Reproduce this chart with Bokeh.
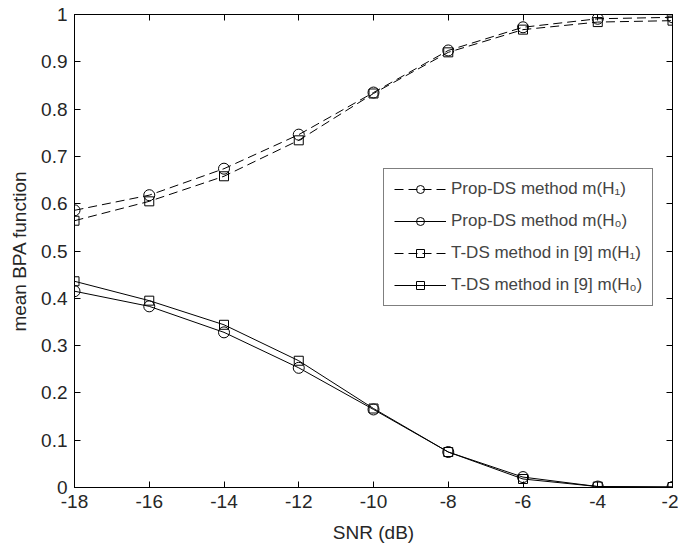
from bokeh.plotting import figure
from bokeh.models import Range1d, LinearAxis, FixedTicker, Legend, LegendItem, CustomJSTickFormatter
from bokeh.embed import file_html
from bokeh.resources import INLINE

snr = [-18, -16, -14, -12, -10, -8, -6, -4, -2]
prop_h1 = [0.586, 0.618, 0.674, 0.746, 0.835, 0.924, 0.973, 0.991, 0.994]
prop_h0 = [0.415, 0.383, 0.328, 0.253, 0.165, 0.075, 0.022, 0.002, 0.001]
tds_h1 = [0.564, 0.605, 0.658, 0.734, 0.833, 0.920, 0.968, 0.984, 0.987]
tds_h0 = [0.436, 0.395, 0.344, 0.268, 0.167, 0.075, 0.018, 0.002, 0.001]

labels = ["Prop-DS method m(H\u2081)", "Prop-DS method m(H\u2080)",
          "T-DS method in [9] m(H\u2081)", "T-DS method in [9] m(H\u2080)"]
x_ticks = [-18, -16, -14, -12, -10, -8, -6, -4, -2]
x_tick_labels = ["-18", "-16", "-14", "-12", "-10", "-8", "-6", "-4", "-2"]
y_ticks = [0, 0.1, 0.2, 0.3, 0.4, 0.5, 0.6, 0.7, 0.8, 0.9, 1]
y_tick_labels = ["0", "0.1", "0.2", "0.3", "0.4", "0.5", "0.6", "0.7", "0.8", "0.9", "1"]

FONT = "Liberation Sans"

p = figure(frame_width=598, frame_height=473, output_backend="svg",
           toolbar_location=None, x_range=Range1d(-18, -2), y_range=Range1d(0, 1),
           min_border_left=74, min_border_top=14, min_border_right=6, min_border_bottom=58)
p.xgrid.visible = False
p.ygrid.visible = False
p.outline_line_color = "black"
p.outline_line_width = 1
p.background_fill_color = "white"
p.border_fill_color = "white"

series = [
    (prop_h1, "dashed", "circle", 11),
    (prop_h0, "solid", "circle", 11),
    (tds_h1, "dashed", "square", 9),
    (tds_h0, "solid", "square", 9),
]
items = []
for (ys, dash, marker, size), lab in zip(series, labels):
    ld = "9 5" if dash == "dashed" else "solid"
    r1 = p.line(snr, ys, line_color="black", line_width=1, line_dash=ld)
    r2 = p.scatter(snr, ys, marker=marker, size=size, line_color="black",
                   line_width=1, fill_alpha=0)
    items.append(LegendItem(label=lab, renderers=[r1, r2]))

leg = Legend(items=items, location=(309, 181), border_line_color="black",
             border_line_width=1, background_fill_alpha=1,
             label_text_font=FONT, label_text_font_size="17px",
             glyph_width=52, glyph_height=20, label_height=20, spacing=12,
             padding=10, label_standoff=5, margin=0)
p.add_layout(leg, "center")

def style_axis(ax):
    ax.major_tick_in = 6
    ax.major_tick_out = 0
    ax.minor_tick_line_color = None
    ax.axis_line_color = "black"
    ax.major_tick_line_color = "black"
    ax.major_label_text_font = FONT
    ax.major_label_text_font_size = "19px"
    ax.major_label_text_color = "#262626"
    ax.axis_label_text_font = FONT
    ax.axis_label_text_font_size = "19px"
    ax.axis_label_text_font_style = "normal"
    ax.axis_label_text_color = "#262626"

p.xaxis.ticker = FixedTicker(ticks=x_ticks)
p.yaxis.ticker = FixedTicker(ticks=y_ticks)
p.xaxis.major_label_overrides = dict(zip(x_ticks, x_tick_labels))
p.yaxis.major_label_overrides = dict(zip(y_ticks, y_tick_labels))
p.xaxis.axis_label = "SNR (dB)"
p.yaxis.axis_label = "mean BPA function"
style_axis(p.xaxis[0])
style_axis(p.yaxis[0])
p.xaxis.major_label_standoff = 7
p.yaxis.major_label_standoff = 7
p.xaxis.axis_label_standoff = 11
p.yaxis.axis_label_standoff = 8

blank = CustomJSTickFormatter(code="return ''")
top = LinearAxis(ticker=FixedTicker(ticks=x_ticks), formatter=blank)
right = LinearAxis(ticker=FixedTicker(ticks=y_ticks), formatter=blank)
style_axis(top)
style_axis(right)
top.major_label_standoff = 0
right.major_label_standoff = 0
p.add_layout(top, "above")
p.add_layout(right, "right")

open("out.html", "w").write(file_html(p, INLINE))
